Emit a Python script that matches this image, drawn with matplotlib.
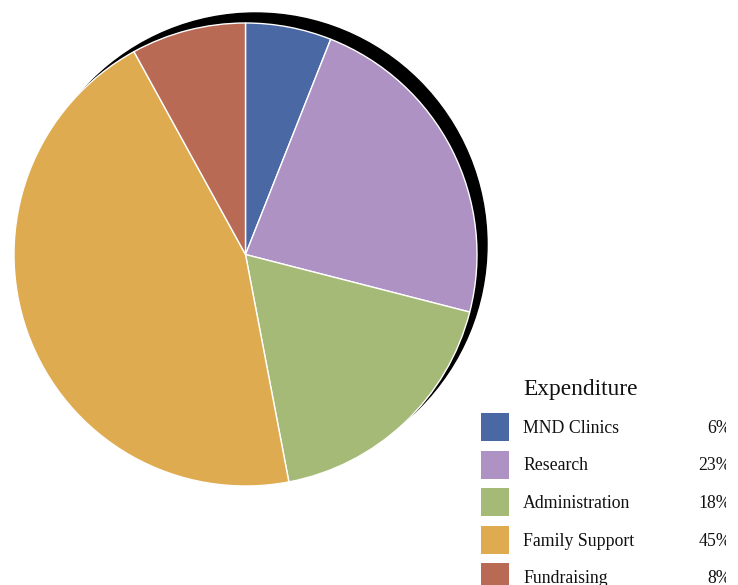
import matplotlib
matplotlib.use("Agg")
import matplotlib.pyplot as plt
from matplotlib.patches import Circle, Rectangle

categories = ["MND Clinics", "Research", "Administration", "Family Support", "Fundraising"]
values = [6, 23, 18, 45, 8]
colors = ["#4A68A3", "#AE92C3", "#A5BA77", "#DFAB50", "#B86A55"]
title = "Expenditure"

W, H = 738, 585
plt.rcParams["font.family"] = ["Liberation Serif", "DejaVu Serif"]

fig = plt.figure(figsize=(W / 100, H / 100), dpi=100)
ax = fig.add_axes([0, 0, 1, 1])
ax.set_axis_off()

cx, cy, r = 245.5, H - 254.5, 231.5

# shadow behind the pie
ax.add_patch(Circle((cx + 10, cy + 10), r, color="black", zorder=1))

wedges, _ = ax.pie(values, colors=colors, startangle=90, counterclock=False,
                   center=(cx, cy), radius=r,
                   wedgeprops=dict(edgecolor="white", linewidth=1.0))
for w in wedges:
    w.set_zorder(2)

# legend drawn by hand
ax.text(523, H - 389, title, fontsize=16.8, ha="left", va="center", color="#111111")
row0, step = 427, 37.5
total = sum(values)
for i, (cat, val, col) in enumerate(zip(categories, values, colors)):
    y = H - (row0 + i * step)
    ax.add_patch(Rectangle((481, y - 14), 28, 28, facecolor=col, edgecolor="none", zorder=3))
    ax.text(523, y - 1.5, cat, fontsize=12.8, ha="left", va="center", color="#111111")
    ax.text(731, y - 1.5, "%d%%" % round(100.0 * val / total), fontsize=12.8,
            ha="right", va="center", color="#111111")
# plot area ends before the figure edge
ax.add_patch(Rectangle((726, 0), 20, H, facecolor="white", edgecolor="none", zorder=10))

ax.set_xlim(0, W)
ax.set_ylim(0, H)
ax.set_aspect("auto")
fig.savefig("out.png", dpi=100)
